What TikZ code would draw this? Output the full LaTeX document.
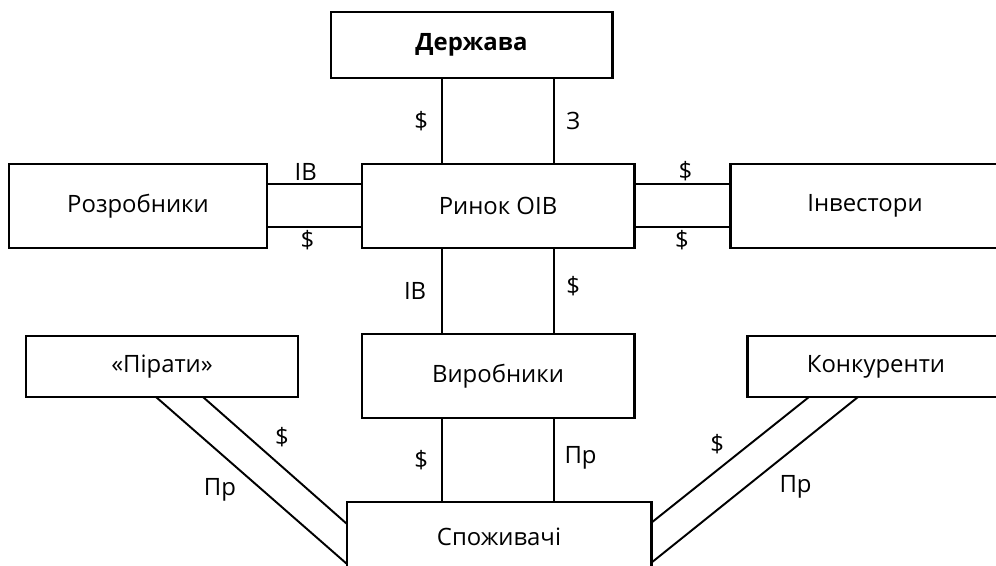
\documentclass[tikz,border=0pt]{standalone}
\usepackage{fontspec}
\setmainfont{Open Sans}
\usetikzlibrary{positioning}
\usetikzlibrary{calc}

\begin{document}
\begin{tikzpicture}[every node/.style={outer sep=0pt},
		box/.style={draw,line width=1.7pt,minimum height=1.68cm,inner sep=0pt,font=\fontsize{13.6}{16}\selectfont},
		link/.style={line width=1.1pt},
		lbl/.style={font=\fontsize{13.6}{16}\selectfont,inner sep=2pt},
		]
		\useasboundingbox (0,0) rectangle (19.92,-11.32);

		% upper row
		\path (9.43,-0.90) node[box,minimum width=5.62cm,minimum height=1.32cm] (dz) {\bfseries Держава};
		\path (9.96,-4.12) node[box,minimum width=5.44cm] (rn) {Ринок ОІВ};
		\path (2.76,-4.12) node[box,minimum width=5.16cm] (rz) {Розробники};
		\path (17.30,-4.12) node[box,minimum width=5.40cm] (iv) {Інвестори};

		% lower rows
		\path (9.96,-7.52) node[box,minimum width=5.44cm] (vr) {Виробники};
		\path (3.24,-7.33) node[box,minimum width=5.44cm,minimum height=1.22cm] (pr) {«Пірати»};
		\path (17.52,-7.33) node[box,minimum width=5.16cm,minimum height=1.22cm] (kn) {Конкуренти};
		\path (9.98,-10.74) node[box,minimum width=6.08cm,minimum height=1.40cm] (sp) {Споживачі};

		% vertical links
		\draw[link] ($(rn.north)+(-1.12,0)$) -- ($(dz.south)+(-0.59,0)$) node[midway,lbl,left=6pt] {\$};
		\draw[link] ($(rn.north)+(1.12,0)$) -- ($(dz.south)+(1.65,0)$) node[midway,lbl,right=5pt] {З};
		\draw[link] ($(rn.south)+(-1.12,0)$) -- ($(vr.north)+(-1.12,0)$) node[midway,lbl,left=7pt] {ІВ};
		\draw[link] ($(rn.south)+(1.12,0)$) -- ($(vr.north)+(1.12,0)$) node[midway,lbl,right=5pt,yshift=3pt] {\$};
		\draw[link] ($(vr.south)+(-1.12,0)$) -- ($(sp.north)+(-1.14,0)$) node[midway,lbl,left=6pt] {\$};
		\draw[link] ($(vr.south)+(1.12,0)$) -- ($(sp.north)+(1.10,0)$) node[midway,lbl,right=4pt,yshift=1pt] {Пр};

		% horizontal links
		\draw[link] ($(rz.east)+(0,0.44)$) -- ($(rn.west)+(0,0.44)$) node[midway,lbl,above,xshift=-5pt] {ІВ};
		\draw[link] ($(rz.east)+(0,-0.42)$) -- ($(rn.west)+(0,-0.42)$) node[midway,lbl,below,xshift=-4pt] {\$};
		\draw[link] ($(rn.east)+(0,0.44)$) -- ($(iv.west)+(0,0.44)$) node[midway,lbl,above,xshift=2pt] {\$};
		\draw[link] ($(rn.east)+(0,-0.42)$) -- ($(iv.west)+(0,-0.42)$) node[midway,lbl,below] {\$};

		% diagonal links
		\draw[link] ($(pr.south)+(0.82,0)$) -- ($(sp.north west)+(0,-0.44)$) node[pos=0.45,lbl,above right=3pt] {\$};
		\draw[link] ($(pr.south)+(-0.12,0)$) -- ($(sp.north west)+(0,-1.24)$) node[pos=0.45,lbl,below left=2pt] {Пр};
		\draw[link] ($(kn.south)+(-1.34,0)$) -- ($(sp.north east)+(0,-0.42)$) node[pos=0.5,lbl,above left=2pt] {\$};
		\draw[link] ($(kn.south)+(-0.36,0)$) -- ($(sp.north east)+(0,-1.22)$) node[pos=0.42,lbl,below right=4pt] {Пр};
	\end{tikzpicture}
\end{document}
